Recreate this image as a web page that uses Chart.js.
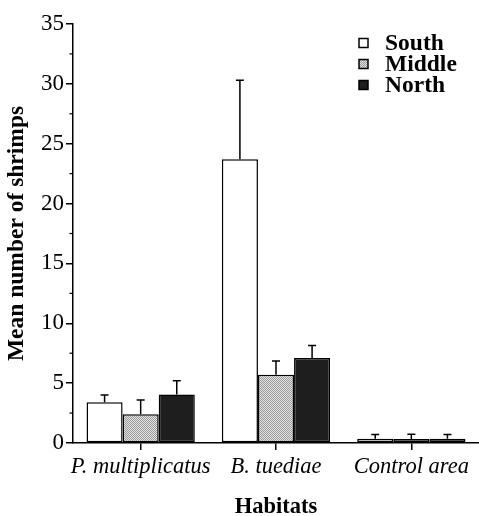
<!DOCTYPE html>
<html>
<head>
<meta charset="utf-8">
<script src="https://cdn.jsdelivr.net/npm/chart.js@4.4.0/dist/chart.umd.min.js"></script>
<style>
  html, body { margin: 0; padding: 0; background: #fff; }
  #wrap { width: 479px; height: 516px; }
</style>
</head>
<body>
<div id="wrap"><canvas id="chart" width="479" height="516"></canvas></div>
<script>
// data
const habitats = ['P. multiplicatus', 'B. tuediae', 'Control area'];
const south = [3.4, 23.7, 0.35];
const southErr = [0.6, 6.6, 0.37];
const middle = [2.4, 5.7, 0.33];
const middleErr = [1.2, 1.15, 0.4];
const north = [4.05, 7.1, 0.35];
const northErr = [1.15, 1.05, 0.37];
const yTicks = [0, 5, 10, 15, 20, 25, 30, 35];

const serif = "'Liberation Serif', 'Times New Roman', serif";

// dithered grey for the Middle bars
function makePattern() {
    let c = document.createElement('canvas');
    c.width = 2; c.height = 2;
    let g = c.getContext('2d');
    g.fillStyle = '#e4e4e4';
    g.fillRect(0, 0, 2, 2);
    g.fillStyle = '#999999';
    g.fillRect(0, 0, 1, 1);
    g.fillRect(1, 1, 1, 1);
    return g.createPattern(c, 'repeat');
}
const grey = makePattern();

const errorBars = {
    id: 'errorBars',
    afterDatasetsDraw(chart) {
        const ctx = chart.ctx;
        const y = chart.scales.y;
        ctx.save();
        ctx.strokeStyle = '#000';
        ctx.lineWidth = 1.5;
        chart.data.datasets.forEach((ds, i) => {
            const meta = chart.getDatasetMeta(i);
            meta.data.forEach((bar, j) => {
                const top = y.getPixelForValue(ds.data[j] + ds.errors[j]);
                ctx.beginPath();
                ctx.moveTo(bar.x, bar.y);
                ctx.lineTo(bar.x, top);
                ctx.moveTo(bar.x - 4, top);
                ctx.lineTo(bar.x + 4, top);
                ctx.stroke();
            });
        });
        ctx.restore();
    }
};

const extras = {
    id: 'extras',
    afterDraw(chart) {
        const ctx = chart.ctx;
        const y = chart.scales.y;
        const left = chart.chartArea.left;
        ctx.save();
        // minor ticks
        ctx.strokeStyle = '#000';
        ctx.lineWidth = 1.2;
        for (let v = 2.5; v < 35; v += 5) {
            const py = y.getPixelForValue(v);
            ctx.beginPath();
            ctx.moveTo(left - 3.5, py);
            ctx.lineTo(left, py);
            ctx.stroke();
        }
        // legend
        ctx.font = 'bold 23.5px ' + serif;
        ctx.textBaseline = 'middle';
        chart.data.datasets.forEach((ds, i) => {
            const cy = 43 + i * 21;
            ctx.fillStyle = ds.backgroundColor;
            ctx.fillRect(359, cy - 4.5, 9, 9);
            ctx.lineWidth = 1.5;
            ctx.strokeStyle = '#000';
            ctx.strokeRect(359, cy - 4.5, 9, 9);
            ctx.fillStyle = '#000';
            ctx.fillText(ds.label, 385, cy + 1);
        });
        ctx.restore();
    }
};

new Chart(document.getElementById('chart'), {
    type: 'bar',
    data: {
        labels: habitats,
        datasets: [
            { label: 'South', data: south, errors: southErr, backgroundColor: '#ffffff' },
            { label: 'Middle', data: middle, errors: middleErr, backgroundColor: grey },
            { label: 'North', data: north, errors: northErr, backgroundColor: '#1e1e1e' }
        ]
    },
    options: {
        responsive: false,
        animation: false,
        devicePixelRatio: 1,
        layout: { padding: { top: 24, right: 0, left: 0, bottom: 0 } },
        datasets: {
            bar: {
                borderColor: '#000',
                borderWidth: 1.5,
                borderSkipped: false,
                categoryPercentage: 0.8,
                barPercentage: 1.0
            }
        },
        plugins: {
            legend: { display: false },
            tooltip: { enabled: false }
        },
        scales: {
            x: {
                afterFit(scale) { scale.height = 73; },
                grid: {
                    offset: false,
                    drawOnChartArea: false,
                    tickLength: 7,
                    color: '#000',
                    lineWidth: 1.5
                },
                border: { color: '#000', width: 1.5 },
                ticks: {
                    color: '#000',
                    padding: 4,
                    maxRotation: 0,
                    minRotation: 0,
                    autoSkip: false,
                    font: { family: serif, size: 22.5, style: 'italic' }
                },
                title: {
                    display: true,
                    text: 'Habitats',
                    color: '#000',
                    font: { family: serif, size: 22.5, weight: 'bold', lineHeight: 1 },
                    padding: { top: 0, bottom: -2 }
                }
            },
            y: {
                min: 0,
                max: 35,
                afterFit(scale) { scale.width = 73; },
                afterBuildTicks(scale) { scale.ticks = yTicks.map(v => ({ value: v })); },
                grid: {
                    drawOnChartArea: false,
                    tickLength: 7,
                    color: '#000',
                    lineWidth: 1.5
                },
                border: { color: '#000', width: 1.5 },
                ticks: {
                    color: '#000',
                    padding: 2,
                    font: { family: serif, size: 23 }
                },
                title: {
                    display: true,
                    text: 'Mean number of shrimps',
                    color: '#000',
                    font: { family: serif, size: 23.5, weight: 'bold' },
                    padding: { top: 3, bottom: 0 }
                }
            }
        }
    },
    plugins: [errorBars, extras]
});
</script>
</body>
</html>
